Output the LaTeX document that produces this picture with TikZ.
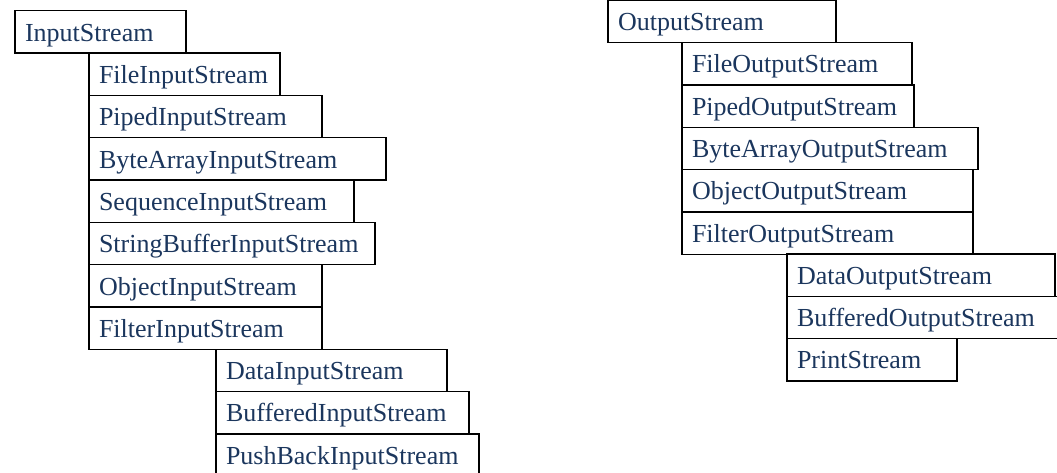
\documentclass[tikz,border=0pt]{standalone}
\usepackage{fontspec}
\setmainfont{Liberation Serif}
\usepackage{tikz}
\usetikzlibrary{positioning}
\definecolor{jvNavy}{HTML}{1B365D}
\tikzset{
  cls/.style={draw=black, line width=0.9pt, anchor=north west, outer sep=0pt,
    inner xsep=7.5pt, inner ysep=0pt, minimum height=31.75pt,
    text height=22.75pt, text depth=9pt,
    text width={(#1)*0.75pt-15pt}, align=left,
    text=jvNavy, font=\fontsize{19.5}{22}\selectfont},
}

\begin{document}
\begin{tikzpicture}[x=0.75pt, y=-0.75pt]
    \useasboundingbox (0,0) rectangle (1057,472);
    % ── InputStream and its subclasses ───────────────────────────────────
    \node[cls=171] (is) at (15,10.7) {InputStream};
    \node[cls=191] (fis) at (89,53) {FileInputStream};
    \node[cls=233] (pis) at (fis.south west) {PipedInputStream};
    \node[cls=297] (bais) at (pis.south west) {ByteArrayInputStream};
    \node[cls=265] (sis) at (bais.south west) {SequenceInputStream};
    \node[cls=286] (sbis) at (sis.south west) {StringBufferInputStream};
    \node[cls=233] (ois) at (sbis.south west) {ObjectInputStream};
    \node[cls=233] (filis) at (ois.south west) {FilterInputStream};
    % filter subclasses
    \node[cls=231] (dis) at (216,349.3) {DataInputStream};
    \node[cls=253] (bis) at (dis.south west) {BufferedInputStream};
    \node[cls=263] (pbis) at (bis.south west) {PushBackInputStream};

    % ── OutputStream and its subclasses ──────────────────────────────────
    \node[cls=228] (os) at (608,0.4) {OutputStream};
    \node[cls=230] (fos) at (682,42.6) {FileOutputStream};
    \node[cls=232] (pos) at (fos.south west) {PipedOutputStream};
    \node[cls=296] (baos) at (pos.south west) {ByteArrayOutputStream};
    \node[cls=291] (oos) at (baos.south west) {ObjectOutputStream};
    \node[cls=291] (filos) at (oos.south west) {FilterOutputStream};
    % filter subclasses
    \node[cls=268] (dos) at (787,253.9) {DataOutputStream};
    \node[cls=283] (bos) at (dos.south west) {BufferedOutputStream};
    \node[cls=170] (ps) at (bos.south west) {PrintStream};
\end{tikzpicture}
\end{document}
